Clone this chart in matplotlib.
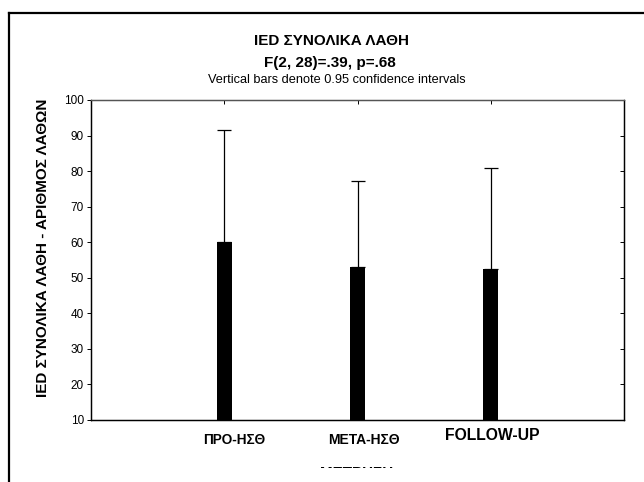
import numpy as np
import matplotlib
matplotlib.use('Agg')
import matplotlib.pyplot as plt
from matplotlib.lines import Line2D
from matplotlib.transforms import Bbox, TransformedBbox, offset_copy

plt.rcParams['font.family'] = ['Liberation Sans', 'DejaVu Sans']

# data
categories = ['ΠΡΟ-ΗΣΘ', 'ΜΕΤΑ-ΗΣΘ', 'FOLLOW-UP']
means = [60.0, 53.0, 52.5]
ci_upper = [91.7, 77.1, 81.0]
yticks = [10, 20, 30, 40, 50, 60, 70, 80, 90, 100]

x = np.arange(1, len(categories) + 1)
means = np.array(means)
upper_err = np.array(ci_upper) - means

fig = plt.figure(figsize=(6.44, 4.82), dpi=100)
ax = fig.add_axes([91 / 644, 1 - 420 / 482, 533 / 644, 320 / 482])

ax.bar(x, means, width=0.113, bottom=0, color='black', zorder=2)
ax.errorbar(x, means, yerr=[np.zeros_like(upper_err), upper_err], fmt='none',
            ecolor='black', elinewidth=0.9, capsize=5, capthick=0.9, zorder=3)

ax.set_xlim(0, 4)
ax.set_ylim(10, 100)
ax.set_yticks(yticks)
ax.tick_params(axis='y', direction='out', length=3, width=0.7, labelsize=8.5, pad=2)
ax.set_xticks(x)
ax.tick_params(axis='x', bottom=False, labelbottom=False, top=True,
               direction='in', length=3, width=0.7)

# right ticks point inward
twin = ax.twinx()
twin.set_ylim(10, 100)
twin.set_yticks(yticks)
twin.tick_params(axis='y', direction='in', length=3, width=0.7, labelright=False)

for a in (ax, twin):
    for s in a.spines.values():
        s.set_linewidth(0.9)
ax.spines['top'].set_color('#555555')
twin.spines['top'].set_color('#555555')

# category labels (last one bigger, like the original)
sizes = [9.8, 10, 11.3]
dy = [-20, -20, -16]
dx = [10, 6, 1]
for xi, lab, fs, oy, ox in zip(x, categories, sizes, dy, dx):
    tr = offset_copy(ax.get_xaxis_transform(), fig=fig, x=ox, y=oy, units='dots')
    ax.text(xi, 0, lab, transform=tr, ha='center', va='center',
            fontsize=fs, fontweight='bold')

fig.text(332 / 644, 1 - 41 / 482, 'IED ΣΥΝΟΛΙΚΑ ΛΑΘΗ', ha='center', va='center',
         fontsize=11, fontweight='bold')
fig.text(330 / 644, 1 - 63 / 482, 'F(2, 28)=.39, p=.68', ha='center', va='center',
         fontsize=11, fontweight='bold')
fig.text(337 / 644, 1 - 80 / 482, 'Vertical bars denote 0.95 confidence intervals',
         ha='center', va='center', fontsize=9.2)

fig.text(43 / 644, 1 - 248 / 482, 'IED ΣΥΝΟΛΙΚΑ ΛΑΘΗ - ΑΡΙΘΜΟΣ ΛΑΘΩΝ', rotation=90,
         ha='center', va='center', fontsize=11, fontweight='bold')

# x label is cut off at the bottom in the original
xl = fig.text(357 / 644, 1 - 477 / 482, 'ΜΕΤΡΗΣΗ', ha='center', va='baseline',
              fontsize=11, fontweight='bold')
xl.set_clip_box(TransformedBbox(Bbox([[0, 14 / 482], [1, 1]]), fig.transFigure))
xl.set_clip_on(True)

# outer frame
fx = 8.5 / 644
fy = 1 - 12.5 / 482
fig.add_artist(Line2D([fx, fx], [0, fy], transform=fig.transFigure, color='black', lw=1.6))
fig.add_artist(Line2D([fx, 1], [fy, fy], transform=fig.transFigure, color='black', lw=1.6))

fig.savefig('out.png', dpi=100)
